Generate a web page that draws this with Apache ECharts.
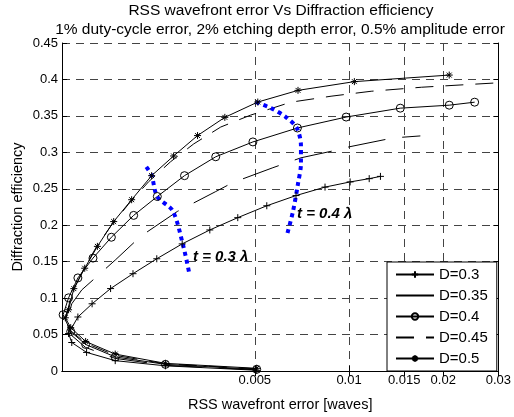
<!DOCTYPE html>
<html>
<head>
<meta charset="utf-8">
<script src="https://cdn.jsdelivr.net/npm/echarts@6/dist/echarts.min.js"></script>
<style>
    html, body { margin: 0; padding: 0; background: #fff; }
    #chart { width: 514px; height: 417px; }
</style>
</head>
<body>
<div id="chart"></div>
<script>
// x ticks (log axis, drawn through log10 of the values)
const xTicks = [0.005, 0.01, 0.015, 0.02, 0.03];
const xTickLabels = ['0.005', '0.01', '0.015', '0.02', '0.03'];
const xMin = 0.00121;
const xMax = 0.03;

const seriesNames = ['D=0.3', 'D=0.35', 'D=0.4', 'D=0.45', 'D=0.5'];

// each curve: lower branch -> tip -> upper branch, [wavefront error, efficiency]
const d30 = [
    [0.00507, 0.001], [0.00259, 0.0071], [0.00179, 0.0142], [0.00145, 0.0255], [0.0013, 0.0391],
    [0.00127, 0.0514],
    [0.00136, 0.0741], [0.00151, 0.0922], [0.00173, 0.1131], [0.00204, 0.1335], [0.00243, 0.154],
    [0.00293, 0.1744], [0.00359, 0.1935], [0.00441, 0.2104], [0.00546, 0.2267], [0.00677, 0.2407],
    [0.00838, 0.2523], [0.01008, 0.2594], [0.0116, 0.2639], [0.0126, 0.267]
];
const d35 = [
    [0.00507, 0.0016], [0.00259, 0.0078], [0.00179, 0.0173], [0.00144, 0.0323], [0.0013, 0.0486],
    [0.00125, 0.0663],
    [0.0013, 0.0922], [0.0014, 0.1113], [0.00152, 0.1249], [0.00179, 0.1522], [0.00216, 0.1849],
    [0.00283, 0.219], [0.00375, 0.2462], [0.00425, 0.2585], [0.00571, 0.2789], [0.00702, 0.2925],
    [0.00889, 0.302], [0.01, 0.3075], [0.01384, 0.3198], [0.0169, 0.3225]
];
const d40 = [
    [0.00507, 0.0023], [0.00259, 0.0091], [0.00179, 0.0193], [0.00144, 0.0364], [0.00129, 0.0541],
    [0.00122, 0.0772],
    [0.00127, 0.1004], [0.00136, 0.1277], [0.00152, 0.1549], [0.00174, 0.1835], [0.00205, 0.2135],
    [0.00244, 0.2394], [0.00298, 0.268], [0.00375, 0.2939], [0.00493, 0.3143], [0.00684, 0.3334],
    [0.00979, 0.3484], [0.01458, 0.3606], [0.0209, 0.3647], [0.0252, 0.3688]
];
const d45 = [
    [0.00507, 0.003], [0.00259, 0.0098], [0.00179, 0.0214], [0.00144, 0.0384], [0.00129, 0.0552],
    [0.00124, 0.0704],
    [0.0013, 0.1059], [0.0014, 0.1345], [0.00155, 0.1685], [0.00173, 0.1985], [0.00197, 0.2285],
    [0.00229, 0.2598], [0.00269, 0.2871], [0.00319, 0.3116], [0.00389, 0.3347], [0.00485, 0.3511],
    [0.00652, 0.3688], [0.00876, 0.377], [0.01177, 0.3838], [0.01703, 0.3893], [0.02462, 0.3933],
    [0.03, 0.3954]
];
const d50 = [
    [0.00507, 0.0037], [0.00259, 0.0105], [0.00179, 0.0232], [0.00144, 0.0405], [0.00129, 0.0595],
    [0.00124, 0.073],
    [0.00127, 0.084], [0.00132, 0.113], [0.00143, 0.141], [0.00157, 0.171], [0.00177, 0.205],
    [0.00202, 0.235], [0.00234, 0.268], [0.00275, 0.295], [0.00328, 0.323], [0.00401, 0.348],
    [0.00511, 0.369], [0.00687, 0.385], [0.0104, 0.397], [0.0209, 0.406]
];

// constant thickness lines (blue dotted)
const t03 = [[0.00225, 0.280], [0.00234, 0.268], [0.00244, 0.239], [0.00273, 0.220], [0.00294, 0.175], [0.00309, 0.133]];
const t04 = [[0.00504, 0.3688], [0.00563, 0.3606], [0.00628, 0.3484], [0.00681, 0.3334], [0.00702, 0.3089],
    [0.00702, 0.2843], [0.00687, 0.2571], [0.00662, 0.2189], [0.00633, 0.1862]];

const font = 'Liberation Sans, Arial, sans-serif';
const plusPath = 'path://M0,5L10,5M5,0L5,10';
const starPath = 'path://M5,0L5,10M0,5L10,5M1.5,1.5L8.5,8.5M1.5,8.5L8.5,1.5';

function toLog(pts) {
    return pts.map(function (p) { return [Math.log10(p[0]), p[1]]; });
}

let chart = echarts.init(document.getElementById('chart'));

function curve(name, pts, symbol, size, dash) {
    let hidden = symbol === 'none';
    return {
        name: name,
        type: 'line',
        data: toLog(pts),
        symbol: hidden ? 'circle' : symbol,
        symbolSize: size,
        showSymbol: !hidden,
        lineStyle: { color: '#000', width: 1, type: dash },
        itemStyle: hidden
            ? { color: 'rgba(0,0,0,0)', borderColor: 'rgba(0,0,0,0)', borderWidth: 0 }
            : { color: symbol === 'circle' ? 'rgba(0,0,0,0)' : '#000', borderColor: '#000', borderWidth: 1 },
        animation: false
    };
}

function tLine(pts) {
    return {
        type: 'line',
        data: toLog(pts),
        symbol: 'none',
        smooth: 0.3,
        lineStyle: { color: '#0000ff', width: 4, type: [4, 4] },
        animation: false,
        z: 3
    };
}

let logTicks = xTicks.map(function (v) { return Math.log10(v); });
let gridDash = { color: '#444', width: 1, type: [8, 6] };

let option = {
    backgroundColor: '#fff',
    textStyle: { fontFamily: font },
    grid: { left: 62, right: 14, top: 43, bottom: 43 },
    legend: {
        data: seriesNames,
        orient: 'vertical',
        left: 387,
        top: 262,
        itemWidth: 38,
        itemHeight: 8,
        itemGap: 6,
        padding: [5, 9, 5, 8],
        borderColor: '#000',
        borderWidth: 1,
        backgroundColor: '#fff',
        textStyle: { fontSize: 15, lineHeight: 15, color: '#000', fontFamily: font }
    },
    xAxis: [{
        type: 'value',
        min: Math.log10(xMin),
        max: Math.log10(xMax),
        name: 'RSS wavefront error [waves]',
        nameLocation: 'middle',
        nameGap: 26,
        nameMoveOverlap: false,
        nameTextStyle: { fontSize: 14.5, color: '#000' },
        axisLine: { lineStyle: { color: '#000' } },
        axisTick: { inside: true, length: 5, customValues: logTicks, lineStyle: { color: '#000' } },
        axisLabel: {
            customValues: logTicks,
            margin: 3,
            fontSize: 13,
            color: '#000',
            formatter: function (v) {
                for (let i = 0; i < logTicks.length; i++) {
                    if (Math.abs(logTicks[i] - v) < 1e-6) return xTickLabels[i];
                }
                return '';
            }
        },
        splitLine: { show: true, lineStyle: gridDash }
    }, {
        type: 'value',
        position: 'top',
        min: Math.log10(xMin),
        max: Math.log10(xMax),
        axisLine: { show: true, lineStyle: { color: '#000' } },
        axisTick: { inside: true, length: 5, customValues: logTicks, lineStyle: { color: '#000' } },
        axisLabel: { show: false },
        splitLine: { show: false }
    }],
    yAxis: [{
        type: 'value',
        min: 0,
        max: 0.45,
        interval: 0.05,
        name: 'Diffraction efficiency',
        nameLocation: 'middle',
        nameGap: 37,
        nameMoveOverlap: false,
        nameTextStyle: { fontSize: 14.5, color: '#000' },
        axisLine: { show: true, lineStyle: { color: '#000' } },
        axisTick: { show: true, inside: true, length: 5, lineStyle: { color: '#000' } },
        axisLabel: { margin: 4, fontSize: 13, color: '#000' },
        splitLine: { show: true, lineStyle: gridDash }
    }, {
        type: 'value',
        position: 'right',
        min: 0,
        max: 0.45,
        interval: 0.05,
        axisLine: { show: true, lineStyle: { color: '#000' } },
        axisTick: { show: true, inside: true, length: 5, lineStyle: { color: '#000' } },
        axisLabel: { show: false },
        splitLine: { show: false }
    }],
    graphic: [
        { type: 'text', x: 281, y: 11, style: { text: 'RSS wavefront error Vs Diffraction efficiency', fontFamily: font, fontSize: 15.5, fill: '#000', align: 'center', verticalAlign: 'middle' } },
        { type: 'text', x: 280, y: 30, style: { text: '1% duty-cycle error, 2% etching depth error, 0.5% amplitude error', fontFamily: font, fontSize: 15.5, fill: '#000', align: 'center', verticalAlign: 'middle' } },
        { type: 'text', x: 193, y: 257, z: 10, style: { text: 't = 0.3 λ', fontFamily: font, fontSize: 15, fontWeight: 'bold', fontStyle: 'italic', fill: '#000', align: 'left', verticalAlign: 'middle' } },
        { type: 'text', x: 297, y: 214, z: 10, style: { text: 't = 0.4 λ', fontFamily: font, fontSize: 15, fontWeight: 'bold', fontStyle: 'italic', fill: '#000', align: 'left', verticalAlign: 'middle' } }
    ],
    series: [
        curve('D=0.3', d30, plusPath, 7, 'solid'),
        curve('D=0.35', d35, 'none', 0, [38, 17]),
        curve('D=0.4', d40, 'circle', 8, 'solid'),
        curve('D=0.45', d45, 'none', 0, [18, 12]),
        curve('D=0.5', d50, starPath, 7, 'solid'),
        tLine(t03),
        tLine(t04)
    ]
};

chart.setOption(option);
</script>
</body>
</html>
